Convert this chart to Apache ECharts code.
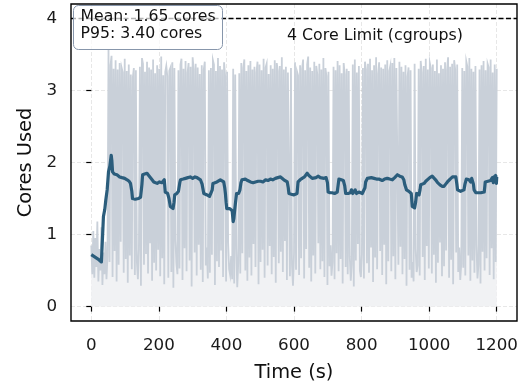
<!DOCTYPE html>
<html>
<head>
<meta charset="utf-8">
<script src="https://cdn.jsdelivr.net/npm/echarts@6/dist/echarts.min.js"></script>
<style>
html,body{margin:0;padding:0;background:#fff;}
#chart{width:529px;height:388px;}
</style>
</head>
<body>
<div id="chart"></div>
<script>
// ---- data ----
const rawStep = 3; // seconds between raw samples, starting at t = 0
const rawValues = [
 0.85,0.45,1.05,0.40,0.95,0.55,1.18,0.35,0.80,0.50,1.10,0.30,0.75,0.45,0.90,0.38,0.70,
 3.56,0.62,3.35,3.48,0.41,3.30,0.77,3.42,0.35,3.29,
 0.58,3.38,0.90,3.31,3.25,0.47,3.44,0.66,3.27,0.33,
 3.36,0.71,3.22,0.52,3.18,3.31,0.44,3.28,0.62,0.38,
 0.80,3.33,0.29,3.45,3.37,0.58,3.26,0.73,3.40,0.46,
 3.32,0.88,3.29,0.36,3.43,0.61,3.24,0.50,3.35,0.79,
 3.30,0.42,3.47,0.67,3.21,0.31,3.26,3.34,3.20,0.40,
 3.27,3.31,0.48,3.39,0.26,3.31,0.92,0.60,0.45,3.28,
 0.53,3.36,3.44,0.37,3.30,0.81,3.41,0.49,3.25,3.38,
 0.64,3.33,0.28,3.46,3.29,0.75,3.37,0.43,3.32,0.86,
 3.23,0.51,3.35,0.34,3.29,3.40,0.57,0.82,0.39,3.28,
 0.47,3.31,0.72,3.42,3.36,0.30,3.27,0.63,3.45,0.55,
 3.34,0.78,3.29,0.41,3.39,3.21,0.35,3.26,0.89,0.52,
 0.44,0.70,0.38,3.30,0.32,3.22,0.81,0.27,0.61,3.24,
 0.46,3.38,0.74,3.31,3.43,0.50,3.27,0.36,3.35,0.68,
 3.41,0.43,3.29,0.87,3.33,0.55,3.25,3.40,0.31,3.36,
 0.62,3.28,0.79,3.44,0.40,3.32,3.37,0.57,3.23,0.84,
 3.35,0.45,3.30,0.69,3.42,0.33,3.38,3.27,0.60,3.34,
 0.76,3.46,0.48,3.29,0.91,3.33,0.37,3.25,3.27,0.42,
 3.31,0.58,0.29,0.73,3.39,0.51,3.26,3.21,0.44,3.35,
 0.67,3.30,3.43,0.39,3.28,0.80,3.36,3.47,0.54,3.32,
 0.35,3.27,0.71,3.40,0.46,3.34,3.22,0.88,3.37,0.52,
 3.29,0.63,3.45,0.41,3.31,3.20,0.30,3.26,0.56,0.85,
 0.43,0.62,3.33,0.38,3.28,0.74,3.41,0.49,3.35,0.66,
 3.24,0.32,3.38,3.22,0.55,3.30,0.45,3.27,0.70,0.36,
 0.59,3.36,0.28,3.43,0.64,3.25,0.87,3.34,0.50,0.41,
 0.73,3.31,0.39,3.40,3.29,0.60,3.37,0.47,3.44,0.82,
 3.28,0.34,3.35,0.68,3.46,0.52,3.23,3.39,0.77,3.32,
 0.44,3.30,0.86,3.36,0.31,3.42,0.63,3.27,3.34,0.49,
 3.38,0.70,3.45,0.38,3.31,3.29,0.58,3.40,0.83,3.33,
 0.45,3.26,0.66,3.35,0.29,3.19,3.32,0.51,3.28,0.40,
 0.62,0.35,3.37,0.80,0.48,0.57,3.30,0.43,3.41,3.25,
 0.69,3.34,0.37,3.44,0.84,3.29,0.53,3.38,3.31,0.46,
 3.36,0.72,3.27,0.33,3.43,0.61,3.24,0.89,3.35,0.42,
 3.30,0.56,3.39,0.78,3.28,3.46,0.40,3.33,0.65,3.37,
 0.31,3.42,3.29,0.75,3.36,0.48,0.82,0.37,0.59,3.31,
 0.54,3.27,0.43,3.40,3.33,0.71,3.45,0.36,3.30,0.64,
 3.26,0.47,3.34,0.85,0.39,0.58,3.29,0.32,3.35,0.76,
 3.41,0.50,3.28,0.67,3.37,3.32,0.44,3.43,0.81,3.25,
 0.38,3.36,0.62,3.30
];
const smoothTimes = [0,10,20,30,34,36,40,43,47,51,55,59,61,63,68,76,84,91,99,106,112,116,120,122,126,130,134,140,146,150,152,158,165,170,175,180,185,190,195,202,209,213,216,219,226,230,234,238,242,245,247,253,258,262,264,272,279,286,293,300,307,313,318,323,328,333,338,343,350,355,358,360,366,372,377,382,387,392,395,397,399,401,405,410,414,417,420,422,424,427,430,436,440,443,446,451,456,463,471,479,486,494,501,508,516,523,530,537,545,552,560,565,570,575,580,583,585,592,600,605,609,612,618,624,631,639,644,649,654,659,665,672,678,683,689,695,699,701,707,713,720,728,731,733,740,746,750,753,760,767,770,774,777,781,785,792,797,802,807,810,812,817,822,829,837,844,851,856,861,868,876,883,891,898,906,913,920,925,928,933,940,947,949,950,954,957,960,963,970,973,975,980,985,990,995,1002,1009,1014,1019,1025,1032,1038,1044,1049,1054,1062,1069,1074,1079,1082,1084,1088,1093,1098,1103,1106,1110,1113,1118,1123,1126,1128,1131,1133,1138,1145,1153,1158,1163,1165,1166,1170,1174,1178,1182,1187,1190,1192,1195,1197,1199,1200];
const smoothValues = [0.72,0.69,0.66,0.62,0.61,1.25,1.35,1.48,1.62,1.87,1.95,2.10,2.02,1.87,1.84,1.83,1.80,1.79,1.78,1.76,1.74,1.71,1.60,1.50,1.48,1.49,1.47,1.50,1.52,1.70,1.83,1.84,1.85,1.82,1.80,1.76,1.73,1.72,1.71,1.73,1.72,1.74,1.76,1.59,1.57,1.50,1.39,1.37,1.36,1.45,1.55,1.57,1.60,1.72,1.76,1.77,1.78,1.79,1.80,1.78,1.80,1.79,1.78,1.76,1.70,1.57,1.56,1.55,1.53,1.52,1.62,1.71,1.72,1.73,1.75,1.76,1.74,1.73,1.65,1.57,1.45,1.36,1.37,1.36,1.35,1.33,1.18,1.22,1.32,1.45,1.57,1.57,1.62,1.72,1.76,1.78,1.77,1.75,1.73,1.72,1.73,1.74,1.74,1.73,1.76,1.75,1.77,1.76,1.78,1.79,1.80,1.78,1.76,1.75,1.73,1.65,1.57,1.56,1.55,1.55,1.57,1.73,1.76,1.78,1.80,1.85,1.82,1.80,1.78,1.77,1.79,1.81,1.79,1.80,1.78,1.79,1.72,1.59,1.58,1.58,1.57,1.59,1.70,1.77,1.76,1.75,1.68,1.57,1.57,1.58,1.62,1.57,1.57,1.62,1.57,1.59,1.58,1.57,1.57,1.65,1.73,1.78,1.80,1.79,1.78,1.77,1.77,1.76,1.75,1.77,1.78,1.77,1.76,1.79,1.83,1.81,1.80,1.76,1.69,1.62,1.60,1.57,1.45,1.39,1.38,1.37,1.45,1.57,1.55,1.62,1.69,1.70,1.71,1.74,1.76,1.79,1.81,1.79,1.76,1.72,1.69,1.67,1.67,1.70,1.73,1.77,1.80,1.81,1.80,1.70,1.62,1.60,1.60,1.61,1.62,1.70,1.77,1.78,1.76,1.73,1.78,1.80,1.70,1.62,1.58,1.58,1.58,1.59,1.59,1.68,1.73,1.74,1.74,1.76,1.75,1.79,1.72,1.80,1.74,1.82,1.71,1.80];
const xTicks = [0,200,400,600,800,1000,1200];
const yTicks = [0,1,2,3,4];
const coreLimit = 4;
const statsLines = ['Mean: 1.65 cores','P95: 3.40 cores'];
const limitLabel = '4 Core Limit (cgroups)';
const xTitle = 'Time (s)';
const yTitle = 'Cores Used';

// ---- build ----
const rawData = rawValues.map((v,i)=>[i*rawStep, v]);
const smoothData = smoothTimes.map((t,i)=>[t, smoothValues[i]]);
const FONT = 'DejaVu Sans';
const chart = echarts.init(document.getElementById('chart'), null, {renderer:'canvas'});
const gridLine = {show:true, lineStyle:{color:'rgba(0,0,0,0.12)', width:0.8, type:[4,2]}};
chart.setOption({
  animation:false,
  backgroundColor:'#fff',
  grid:{left:71, right:12, top:4, bottom:67, show:true, borderColor:'#000', borderWidth:1.4, backgroundColor:'transparent'},
  xAxis:{
    type:'value', min:-60, max:1260,
    axisLine:{show:false},
    axisTick:{show:true, customValues:xTicks, length:5, lineStyle:{color:'#000', width:1.2}},
    axisLabel:{customValues:xTicks, margin:16, fontSize:16.7, fontFamily:FONT, color:'#1a1a1a',
               formatter:(v)=>String(v)},
    splitLine:gridLine,
    name:xTitle, nameLocation:'middle', nameGap:42,
    nameTextStyle:{fontSize:19.4, fontFamily:FONT, color:'#111'}
  },
  yAxis:{
    type:'value', min:-0.2, max:4.2,
    axisLine:{show:false},
    axisTick:{show:true, customValues:yTicks, length:5, lineStyle:{color:'#000', width:1.2}},
    axisLabel:{customValues:yTicks, margin:14, fontSize:16.7, fontFamily:FONT, color:'#1a1a1a',
               formatter:(v)=>String(v)},
    splitLine:gridLine,
    name:yTitle, nameLocation:'middle', nameGap:27, nameRotate:90,
    nameTextStyle:{fontSize:19.4, fontFamily:FONT, color:'#111'}
  },
  series:[
    {
      type:'line', data:rawData, showSymbol:false, symbol:'none', z:2,
      lineStyle:{color:'#c9d0d9', width:1.8, join:'miter'},
      areaStyle:{color:'#f1f2f4', opacity:1, origin:0},
      markLine:{
        silent:true, symbol:'none', animation:false,
        label:{show:false},
        lineStyle:{color:'#000', width:1.3, type:[5,2.5]},
        data:[{yAxis:coreLimit}]
      }
    },
    {
      type:'line', data:smoothData, showSymbol:false, symbol:'none', z:3,
      lineStyle:{color:'#2b5d7c', width:3.2, join:'round'}
    }
  ],
  graphic:[
    {type:'rect', z:100, shape:{x:73.5, y:5.5, width:149, height:44, r:5},
     style:{fill:'rgba(255,255,255,0.7)', stroke:'#8796ab', lineWidth:1}},
    {type:'text', z:101, x:80.5, y:8.6,
     style:{text:statsLines.join('\n'), font:'15.7px "DejaVu Sans"', fill:'#111', lineHeight:17}},
    {type:'text', z:101, x:287, y:36,
     style:{text:limitLabel, font:'15.8px "DejaVu Sans"', fill:'#111', verticalAlign:'middle'}}
  ]
});
</script>
</body>
</html>
